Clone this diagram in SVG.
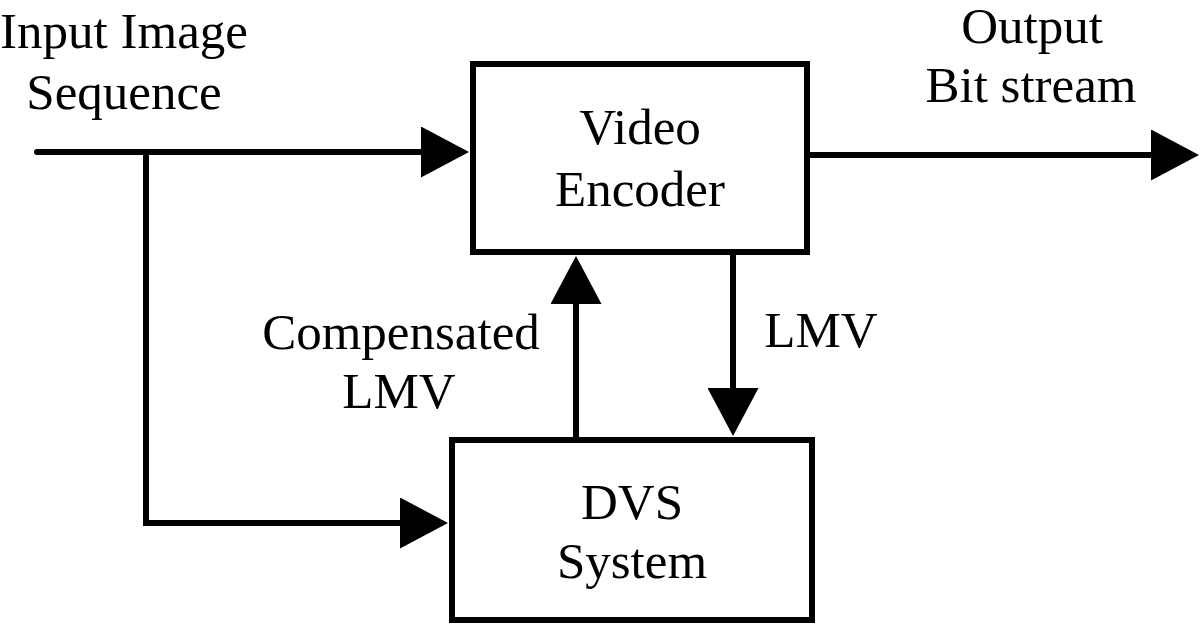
<svg xmlns="http://www.w3.org/2000/svg" width="1200" height="624" viewBox="0 0 1200 624">
<style>
.box{fill:#fff;stroke:#000;stroke-width:6}
.ln{fill:none;stroke:#000;stroke-width:6;stroke-linejoin:miter}
text{font-family:"Liberation Serif","Times New Roman",serif;font-size:51px;fill:#000;text-anchor:middle}
</style>
<defs>
<marker id="ah" markerUnits="userSpaceOnUse" viewBox="0 0 48 51" markerWidth="48" markerHeight="51" refX="1" refY="25.5" orient="auto">
<path d="M0,0 L48,25.5 L0,51 z" fill="#000"/>
</marker>
</defs>
<rect width="1200" height="624" fill="#fff"/>
<g id="connectors">
<path class="ln" d="M37,152 H422" stroke-linecap="round" marker-end="url(#ah)"/>
<path class="ln" d="M146,152 V523 H401" marker-end="url(#ah)"/>
<path class="ln" d="M576,437 V303" marker-end="url(#ah)"/>
<path class="ln" d="M733,255 V389" marker-end="url(#ah)"/>
<path class="ln" d="M810,155 H1152" marker-end="url(#ah)"/>
</g>
<g id="video-encoder">
<rect class="box" x="473" y="64" width="334" height="188"/>
<text x="640" y="144">Video</text>
<text x="640" y="206">Encoder</text>
</g>
<g id="dvs-system">
<rect class="box" x="452" y="440" width="360" height="180"/>
<text x="632" y="519">DVS</text>
<text x="632" y="578">System</text>
</g>
<g id="labels">
<text x="124" y="48">Input Image</text>
<text x="124" y="109">Sequence</text>
<text x="1032" y="43">Output</text>
<text x="1031" y="102">Bit stream</text>
<text x="401" y="349">Compensated</text>
<text x="399" y="408">LMV</text>
<text x="821" y="347">LMV</text>
</g>
</svg>
